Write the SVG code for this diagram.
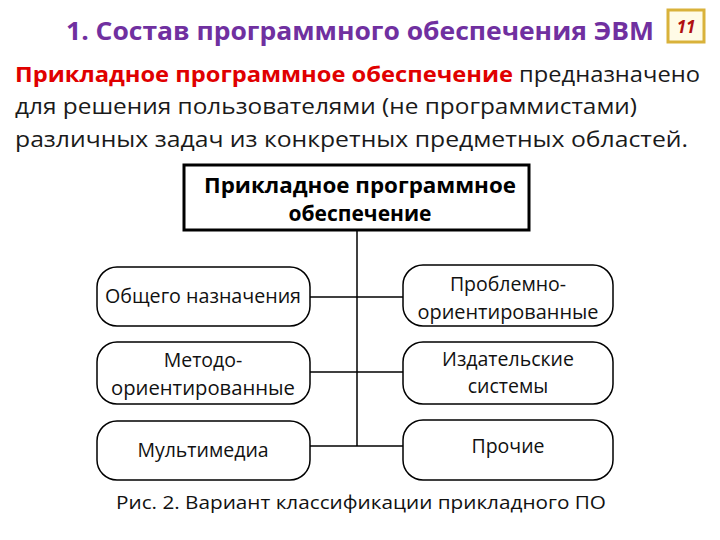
<svg xmlns="http://www.w3.org/2000/svg" width="720" height="540" viewBox="0 0 720 540">
<style>
text{font-family:"Open Sans","Liberation Sans",sans-serif;}
.title{font-size:25px;font-weight:bold;fill:#7030A0;}
.para{font-size:22px;fill:#1a1a1a;}
.red{fill:#E00000;font-weight:bold;}
.node{fill:#fff;stroke:#000;stroke-width:1.5;}
.lbl{font-size:19.5px;fill:#111;text-anchor:middle;}
.top{font-size:21px;font-weight:bold;fill:#000;text-anchor:middle;}
.conn line{stroke:#000;stroke-width:1.5;}
</style>
<rect width="720" height="540" fill="#fff"/>
<text class="title" x="360" y="40" text-anchor="middle" textLength="588" lengthAdjust="spacingAndGlyphs">1. Состав программного обеспечения ЭВМ</text>
<g id="badge">
<rect x="668" y="10" width="36" height="32" fill="#fffbe6" stroke="#d9b23a" stroke-width="3"/>
<text x="686" y="33" text-anchor="middle" font-size="17" font-weight="bold" font-style="italic" fill="#b01010">11</text>
</g>
<text class="para" x="15" y="82" textLength="685" lengthAdjust="spacingAndGlyphs"><tspan class="red">Прикладное программное обеспечение</tspan> предназначено</text>
<text class="para" x="15" y="114" textLength="622" lengthAdjust="spacingAndGlyphs">для решения пользователями (не программистами)</text>
<text class="para" x="15" y="147" textLength="673" lengthAdjust="spacingAndGlyphs">различных задач из конкретных предметных областей.</text>
<g class="conn" id="connectors">
<line x1="357" y1="230" x2="357" y2="446"/>
<line x1="310" y1="297" x2="403" y2="297"/>
<line x1="310" y1="372" x2="403" y2="372"/>
<line x1="310" y1="446" x2="403" y2="446"/>
</g>
<g id="root">
<rect x="184" y="165" width="345" height="65" fill="#fff" stroke="#000" stroke-width="3"/>
<text class="top" x="360" y="193" textLength="312" lengthAdjust="spacingAndGlyphs">Прикладное программное</text>
<text class="top" x="360" y="221">обеспечение</text>
</g>
<g id="general">
<rect class="node" x="97" y="267" width="213" height="59" rx="20"/>
<text class="lbl" x="203" y="303" textLength="196" lengthAdjust="spacingAndGlyphs">Общего назначения</text>
</g>
<g id="method">
<rect class="node" x="97" y="342" width="213" height="62" rx="20"/>
<text class="lbl" x="203" y="367">Методо-</text>
<text class="lbl" x="203" y="395" textLength="184" lengthAdjust="spacingAndGlyphs">ориентированные</text>
</g>
<g id="multimedia">
<rect class="node" x="97" y="421" width="213" height="59" rx="20"/>
<text class="lbl" x="203" y="457">Мультимедиа</text>
</g>
<g id="problem">
<rect class="node" x="403" y="265" width="210" height="61" rx="20"/>
<text class="lbl" x="508" y="291">Проблемно-</text>
<text class="lbl" x="508" y="319" textLength="181" lengthAdjust="spacingAndGlyphs">ориентированные</text>
</g>
<g id="publishing">
<rect class="node" x="403" y="342" width="210" height="62" rx="20"/>
<text class="lbl" x="508" y="366">Издательские</text>
<text class="lbl" x="508" y="393">системы</text>
</g>
<g id="other">
<rect class="node" x="403" y="420" width="210" height="60" rx="20"/>
<text class="lbl" x="508" y="453">Прочие</text>
</g>
<text x="361" y="509" text-anchor="middle" font-size="19" fill="#111" textLength="490" lengthAdjust="spacingAndGlyphs">Рис. 2. Вариант классификации прикладного ПО</text>
</svg>
